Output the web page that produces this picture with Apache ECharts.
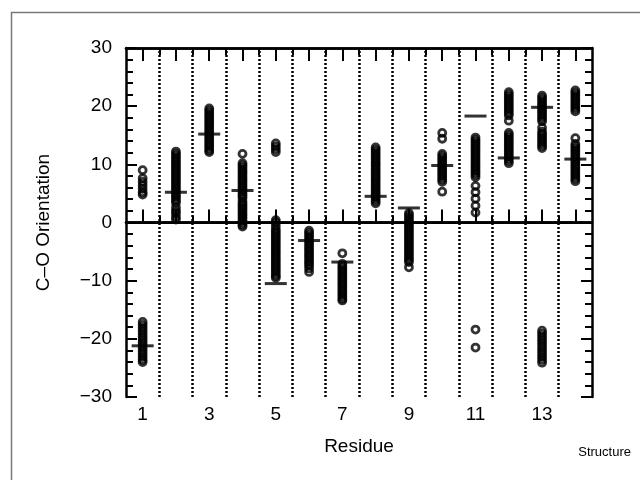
<!DOCTYPE html>
<html>
<head>
<meta charset="utf-8">
<script src="https://cdn.jsdelivr.net/npm/echarts@6/dist/echarts.min.js"></script>
<style>
  html, body { margin: 0; padding: 0; background: #fff; }
  #myChart { width: 640px; height: 480px; }
</style>
</head>
<body>
<div id="myChart"></div>
<script>
// residues on the x axis
const residues = [1, 2, 3, 4, 5, 6, 7, 8, 9, 10, 11, 12, 13, 14];
const residueLabels = [1, 3, 5, 7, 9, 11, 13];
const separators = [1.5, 2.5, 3.5, 4.5, 5.5, 6.5, 7.5, 8.5, 9.5, 10.5, 11.5, 12.5, 13.5];
const yTicks = [-30, -20, -10, 0, 10, 20, 30];

// C-O orientation of each structure, one list per residue
const res1 = [9.0, 7.6, 7.0, 6.4, 5.8, 5.2, 4.8,
  -17.1, -17.6, -18.1, -18.6, -19.1, -19.6, -20.1, -20.6, -21.1, -21.6, -22.1, -22.6, -23.1, -23.6, -24.0];
const res2 = [12.2, 11.8, 11.4, 11.0, 10.6, 10.2, 9.8, 9.4, 9.0, 8.6, 8.2, 7.8, 7.4, 7.0, 6.6, 6.2,
  5.8, 5.4, 5.0, 4.6, 4.2, 3.8, 3.4, 2.6, 2.0, 1.6, 1.0, 0.5];
const res3 = [19.6, 19.2, 18.8, 18.4, 18.0, 17.6, 17.2, 16.8, 16.4, 16.0, 15.6, 15.2, 14.8, 14.4,
  14.0, 13.6, 13.2, 12.8, 12.4, 12.1];
const res4 = [11.8, 10.2, 9.8, 9.4, 9.0, 8.6, 8.2, 7.8, 7.4, 7.0, 6.6, 6.2, 5.8, 5.4, 5.0, 4.6, 4.2,
  3.6, 3.2, 2.8, 2.4, 2.0, 1.6, 1.2, 0.8, 0.4, 0.0, -0.4, -0.7];
const res5 = [13.6, 13.1, 12.6, 12.1,
  0.4, 0.0, -0.6, -1.2, -1.6, -2.0, -2.4, -2.8, -3.2, -3.6, -4.0, -4.4, -4.8, -5.2, -5.6, -6.0,
  -6.4, -6.8, -7.2, -7.6, -8.0, -8.4, -8.8, -9.2, -9.5];
const res6 = [-1.4, -1.8, -2.2, -2.6, -3.0, -3.4, -3.8, -4.2, -4.6, -5.0, -5.4, -5.8, -6.2, -6.6,
  -7.0, -7.4, -7.9, -8.5];
const res7 = [-5.3, -7.1, -7.5, -7.9, -8.3, -8.7, -9.1, -9.5, -9.9, -10.3, -10.7, -11.1, -11.5,
  -11.9, -12.3, -12.7, -13.1, -13.4];
const res8 = [12.9, 12.5, 12.1, 11.7, 11.3, 10.9, 10.5, 10.1, 9.7, 9.3, 8.9, 8.5, 8.1, 7.7, 7.3,
  6.9, 6.5, 6.1, 5.7, 5.3, 4.9, 4.5, 4.1, 3.7, 3.3];
const res9 = [1.6, 1.2, 0.8, 0.4, 0.0, -0.4, -0.8, -1.2, -1.6, -2.0, -2.4, -2.8, -3.2, -3.6, -4.0,
  -4.4, -4.8, -5.2, -5.6, -6.0, -6.4, -6.8, -7.7];
const res10 = [15.4, 14.4, 11.8, 11.4, 11.0, 10.6, 10.2, 9.8, 9.4, 9.0, 8.6, 8.2, 7.8, 7.4, 7.0, 5.3];
const res11 = [14.6, 14.2, 13.8, 13.4, 13.0, 12.6, 12.2, 11.8, 11.4, 11.0, 10.6, 10.2, 9.8, 9.4,
  9.0, 8.6, 8.2, 7.8, 6.3, 5.2, 4.1, 2.9, 1.7, -18.4, -21.5];
const res12 = [22.4, 22.0, 21.6, 21.2, 20.8, 20.4, 20.0, 19.6, 19.2, 18.8, 18.4, 17.5,
  15.4, 15.0, 14.6, 14.2, 13.8, 13.4, 13.0, 12.6, 12.2, 11.8, 11.4, 11.0, 10.6, 10.2];
const res13 = [21.8, 21.4, 21.0, 20.6, 20.2, 19.8, 19.4, 19.0, 18.6, 18.2, 17.8, 17.4, 16.3,
  15.6, 15.2, 14.8, 14.4, 14.0, 13.6, 13.2, 12.8,
  -18.6, -19.1, -19.6, -20.1, -20.6, -21.1, -21.6, -22.1, -22.6, -23.1, -23.6, -24.1];
const res14 = [22.7, 22.3, 21.9, 21.5, 21.1, 20.7, 20.3, 19.9, 19.5, 19.1, 14.5,
  13.5, 13.1, 12.7, 12.3, 11.9, 11.5, 11.1, 10.7, 10.3, 9.9, 9.5, 9.1, 8.7, 8.3, 7.9, 7.5, 7.1];
const orientations = [res1, res2, res3, res4, res5, res6, res7, res8, res9, res10, res11, res12, res13, res14];

// mean (horizontal bar) per residue
const means = [-21.2, 5.2, 15.2, 5.5, -10.5, -3.1, -6.8, 4.5, 2.5, 9.8, 18.3, 11.1, 19.8, 10.9];

const font = "'Liberation Sans', Arial, Helvetica, sans-serif";
const halfTicks = separators;

let points = [];
residues.forEach((r, i) => {
  orientations[i].forEach(v => points.push([r, v]));
});

function xAxisDef(position, ticks, len, main) {
  return {
    type: 'value',
    position: position,
    min: 0.5,
    max: 14.5,
    interval: 0.5,
    name: main ? 'Residue' : '',
    nameLocation: 'middle',
    nameGap: 40,
    nameTextStyle: { fontFamily: font, fontSize: 19, color: '#000' },
    axisLine: { show: true, lineStyle: { color: '#000', width: 2.5 } },
    axisTick: { show: true, inside: true, length: len, customValues: ticks, lineStyle: { color: '#000', width: 2 } },
    axisLabel: {
      show: main,
      customValues: residueLabels,
      margin: 8,
      fontFamily: font,
      fontSize: 19,
      color: '#000'
    },
    splitLine: { show: false }
  };
}

function yAxisDef(position, main) {
  return {
    type: 'value',
    position: position,
    min: -30,
    max: 30,
    interval: 10,
    name: main ? 'C\u2013O Orientation' : '',
    nameLocation: 'middle',
    nameGap: 73,
    nameTextStyle: { fontFamily: font, fontSize: 19, color: '#000' },
    axisLine: { show: true, lineStyle: { color: '#000', width: 2.5 } },
    axisTick: { show: true, inside: true, length: 11, lineStyle: { color: '#000', width: 2 } },
    minorTick: { show: true, splitNumber: 5, length: 7, lineStyle: { color: '#000', width: 2 } },
    axisLabel: {
      show: main,
      margin: 14,
      fontFamily: font,
      fontSize: 19,
      color: '#000',
      formatter: v => String(v).replace('-', '\u2212')
    },
    splitLine: { show: false },
    minorSplitLine: { show: false }
  };
}

let myChart = echarts.init(document.getElementById('myChart'));
let option = {
  animation: false,
  backgroundColor: '#fff',
  grid: { left: 126, right: 48, top: 48, bottom: 83, containLabel: false },
  xAxis: [
    xAxisDef('bottom', residues, 13, true),
    xAxisDef('bottom', halfTicks, 7, false),
    xAxisDef('top', residues, 13, false),
    xAxisDef('top', halfTicks, 7, false)
  ],
  yAxis: [
    yAxisDef('left', true),
    yAxisDef('right', false)
  ],
  graphic: [
    {
      type: 'rect',
      shape: { x: 11.5, y: 12.5, width: 700, height: 600 },
      style: { fill: 'none', stroke: '#777', lineWidth: 1.5 },
      silent: true
    },
    {
      type: 'text',
      right: 9,
      top: 446,
      style: { text: 'Structure', font: '13px ' + font, fill: '#000' }
    }
  ],
  series: [
    {
      // residue separators
      type: 'line',
      data: [],
      markLine: {
        silent: true,
        symbol: ['none', 'none'],
        label: { show: false },
        lineStyle: { color: '#000', width: 2.5, type: [2, 2] },
        data: separators.map(x => ({ xAxis: x }))
      }
    },
    {
      // zero line
      type: 'line',
      data: [],
      markLine: {
        silent: true,
        symbol: ['none', 'none'],
        label: { show: false },
        lineStyle: { color: '#000', width: 2, type: 'solid' },
        data: [{ yAxis: 0 }]
      }
    },
    {
      name: 'structures',
      type: 'scatter',
      symbol: 'circle',
      symbolSize: 7,
      itemStyle: { color: 'rgba(0,0,0,0)', borderColor: '#000', borderWidth: 2.8 },
      data: points
    },
    {
      name: 'mean',
      type: 'scatter',
      symbol: 'rect',
      symbolSize: [22, 3],
      itemStyle: { color: '#000' },
      data: residues.map((r, i) => [r, means[i]])
    }
  ]
};
myChart.setOption(option);
</script>
</body>
</html>
